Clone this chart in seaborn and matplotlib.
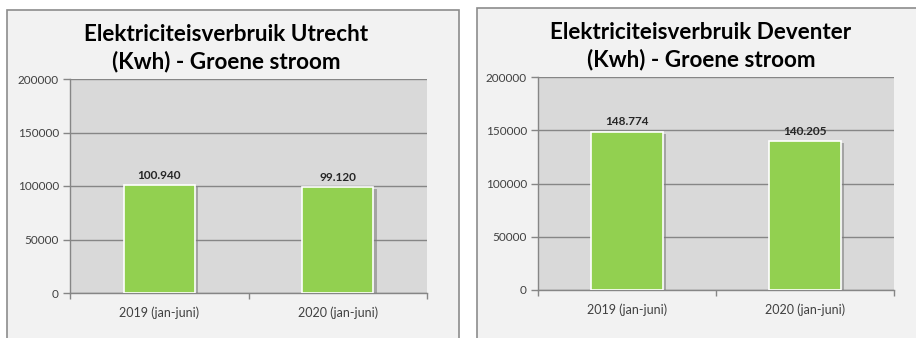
import matplotlib
matplotlib.use("Agg")
import matplotlib.pyplot as plt
import matplotlib.patheffects as pe
from matplotlib.patches import Rectangle
from matplotlib.ticker import FixedLocator
import seaborn as sns
import pandas as pd

categories = ["2019 (jan-juni)", "2020 (jan-juni)"]
utrecht = [100940, 99120]
deventer = [148774, 140205]
titles = ["Elektriciteisverbruik Utrecht\n(Kwh) - Groene stroom",
          "Elektriciteisverbruik Deventer\n(Kwh) - Groene stroom"]
yticks = [0, 50000, 100000, 150000, 200000]

sns.set_theme(style="white")
plt.rcParams["font.family"] = ["Lato", "DejaVu Sans"]

W, H = 916, 338
fig = plt.figure(figsize=(W / 100, H / 100), dpi=100)
fig.patch.set_facecolor("white")

def px(x0, y0, x1, y1):
    return [x0 / W, 1 - y1 / H, (x1 - x0) / W, (y1 - y0) / H]

# panel backgrounds
panels = [(7, 10, 459, 345), (477, 8, 925, 345)]
for (x0, y0, x1, y1) in panels:
    fig.patches.append(Rectangle((x0 / W, 1 - y1 / H), (x1 - x0) / W, (y1 - y0) / H,
                                 transform=fig.transFigure, facecolor="#F2F2F2",
                                 edgecolor="#8C8C8C", linewidth=1.2, zorder=-5))

plot_areas = [(70, 79, 427, 293), (538, 77, 894, 290)]
title_pos = [(226, 48.5), (701, 46.5)]
series = [utrecht, deventer]

for i in range(2):
    ax = fig.add_axes(px(*plot_areas[i]))
    ax.set_zorder(1)
    df = pd.DataFrame({"cat": categories, "val": series[i]})
    sns.barplot(data=df, x="cat", y="val", color="#92D050", saturation=1,
                width=0.4, edgecolor="white", linewidth=1.2, ax=ax, zorder=3)
    for p in ax.patches:
        p.set_path_effects([pe.SimplePatchShadow(offset=(2.5, -1.5), shadow_rgbFace="#7a7a7a", alpha=0.55),
                            pe.Normal()])
    ax.set_facecolor("#D9D9D9")
    ax.set_ylim(0, 200000)
    ax.set_xlim(-0.5, 1.5)
    ax.yaxis.set_major_locator(FixedLocator(yticks))
    ax.set_yticklabels([str(t) for t in yticks])
    ax.grid(axis="y", color="#868686", linewidth=1.0, zorder=1)
    ax.set_axisbelow(True)
    for s in ["top", "right"]:
        ax.spines[s].set_visible(False)
    for s in ["left", "bottom"]:
        ax.spines[s].set_color("#868686")
        ax.spines[s].set_linewidth(1.0)
    ax.set_xlabel("")
    ax.set_ylabel("")
    ax.tick_params(axis="y", left=True, length=5, width=1, color="#868686",
                   labelsize=8.5, labelcolor="#404040", pad=3)
    ax.tick_params(axis="x", which="major", bottom=False, length=0,
                   labelsize=9, labelcolor="#404040", pad=9.5)
    ax.xaxis.set_minor_locator(FixedLocator([-0.5, 0.5, 1.5]))
    ax.tick_params(axis="x", which="minor", bottom=True, length=4, width=1, color="#868686")
    for p, v in zip(ax.patches, series[i]):
        ax.annotate(f"{v:,}".replace(",", "."),
                    (p.get_x() + p.get_width() / 2, p.get_height()),
                    xytext=(0, 3), textcoords="offset points",
                    ha="center", va="bottom", fontsize=8.5, fontweight="bold",
                    color="#262626", zorder=5)
    tx, ty = title_pos[i]
    fig.text(tx / W, 1 - ty / H, titles[i], ha="center", va="center",
             fontsize=16.2, fontweight="bold", color="black", linespacing=1.3)

fig.savefig("out.png", dpi=100, facecolor="white")
